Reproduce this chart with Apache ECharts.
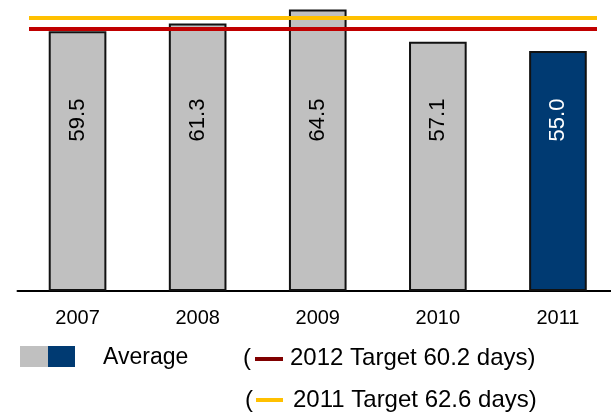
<!DOCTYPE html>
<html>
<head>
<meta charset="utf-8">
<script src="https://cdn.jsdelivr.net/npm/echarts@6/dist/echarts.min.js"></script>
<style>
html,body{margin:0;padding:0;background:#fff;}
#chart{width:611px;height:412px;}
</style>
</head>
<body>
<div id="chart"></div>
<script>
// ---- data ----
const years = ['2007', '2008', '2009', '2010', '2011'];
const averageDays = [59.5, 61.3, 64.5, 57.1, 55.0];
const targetYears = ['2012', '2011'];
const targetDays = [60.2, 62.6];
const legendAverage = 'Average';

// ---- styles ----
const GRAY = '#C0C0C0';
const NAVY = '#003A72';
const LINE_COLORS = ['#C00000', '#FFC000'];
const LEGEND_LINE_COLORS = ['#800000', '#FFC000'];
const FONT = 'Liberation Sans, Arial, sans-serif';

const chart = echarts.init(document.getElementById('chart'));

const barData = averageDays.map((v, i) => {
  const last = i === averageDays.length - 1;
  return {
    value: v,
    itemStyle: { color: last ? NAVY : GRAY },
    label: { color: last ? '#fff' : '#000' }
  };
});

function targetLine(idx) {
  return {
    symbol: 'none',
    silent: true,
    label: { show: false },
    lineStyle: { color: LINE_COLORS[idx], width: 4, type: 'solid' },
    data: [[{ x: 29, yAxis: targetDays[idx] }, { x: 597, yAxis: targetDays[idx] }]]
  };
}

const option = {
  animation: false,
  grid: { left: 17.5, width: 600.5, top: 3, height: 288, containLabel: false, outerBoundsMode: 'none' },
  xAxis: {
    type: 'category',
    data: years,
    axisLine: { lineStyle: { color: '#000', width: 2 } },
    axisTick: { show: false },
    axisLabel: { color: '#000', fontSize: 20, fontFamily: FONT, margin: 17 },
    splitLine: { show: false }
  },
  yAxis: {
    type: 'value', min: 0, max: 66, show: false,
    splitLine: { show: false }
  },
  series: [
    {
      type: 'bar',
      data: barData,
      barWidth: '48%',
      itemStyle: { borderColor: '#111', borderWidth: 2 },
      label: {
        show: true,
        position: 'insideBottom',
        distance: 171,
        rotate: 90,
        align: 'center',
        verticalAlign: 'middle',
        fontSize: 22,
        fontFamily: FONT,
        formatter: p => p.value.toFixed(1)
      },
      markLine: targetLine(0),
      z: 2
    },
    {
      type: 'line',
      data: [],
      symbol: 'none',
      markLine: targetLine(1),
      z: 3
    }
  ],
  graphic: [
    { type: 'rect', shape: { x: 20, y: 346, width: 28, height: 21 }, style: { fill: GRAY } },
    { type: 'rect', shape: { x: 48, y: 346, width: 27, height: 21 }, style: { fill: NAVY } },
    { type: 'text', x: 103, y: 358, style: { text: legendAverage, font: '23px ' + FONT, fill: '#000', verticalAlign: 'middle' } },
    { type: 'text', x: 243, y: 358, style: { text: '(', font: '24px ' + FONT, fill: '#000', verticalAlign: 'middle' } },
    { type: 'rect', shape: { x: 255, y: 357, width: 28, height: 4 }, style: { fill: LEGEND_LINE_COLORS[0] } },
    { type: 'text', x: 290, y: 358, style: { text: targetYears[0] + ' Target ' + targetDays[0].toFixed(1) + ' days)', font: '24px ' + FONT, fill: '#000', verticalAlign: 'middle' } },
    { type: 'text', x: 245, y: 400, style: { text: '(', font: '24px ' + FONT, fill: '#000', verticalAlign: 'middle' } },
    { type: 'rect', shape: { x: 256, y: 398, width: 27, height: 4 }, style: { fill: LEGEND_LINE_COLORS[1] } },
    { type: 'text', x: 293, y: 400, style: { text: targetYears[1] + ' Target ' + targetDays[1].toFixed(1) + ' days)', font: '24px ' + FONT, fill: '#000', verticalAlign: 'middle' } }
  ]
};

chart.setOption(option);
</script>
</body>
</html>
